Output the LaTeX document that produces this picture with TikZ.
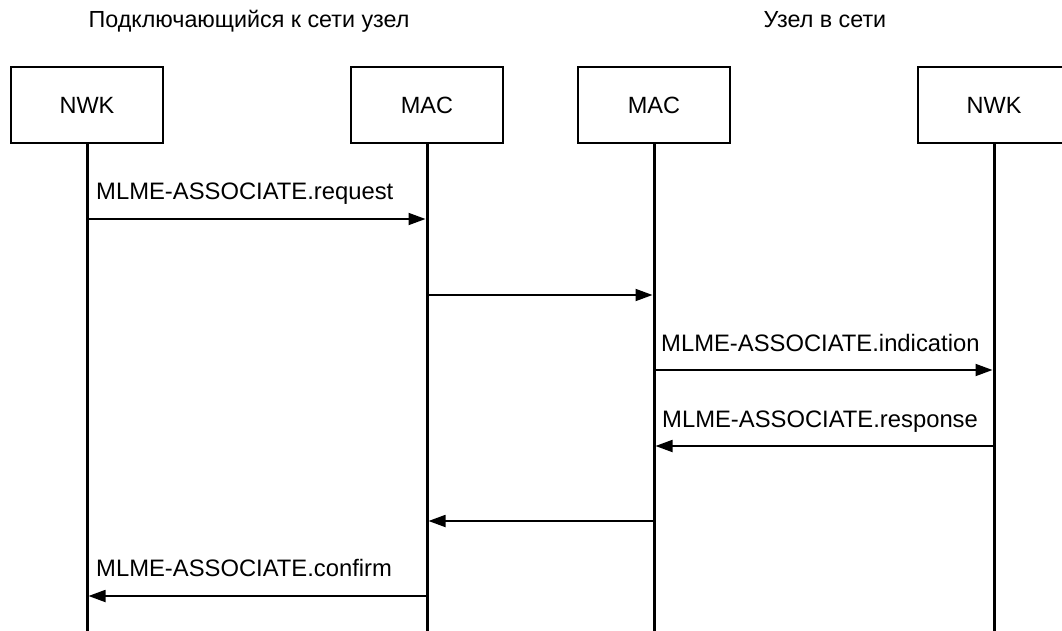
\documentclass[tikz,border=0pt]{standalone}
\usepackage{fontspec}
\setmainfont{Liberation Sans}
\usetikzlibrary{arrows.meta}
\begin{document}
\begin{tikzpicture}[x=1pt,y=1pt,
  every node/.style={font=\fontsize{23.5}{28}\selectfont, text=black},
  entity/.style={draw=black, line width=1.5pt, fill=white, minimum width=152pt, minimum height=76pt, inner sep=0pt},
  lifeline/.style={line width=3pt},
  msg/.style={line width=1.8pt, -{Triangle[length=17pt,width=12pt]}, shorten >=1.5pt, shorten <=1.5pt},
  msglabel/.style={anchor=base west, inner sep=0pt, font=\fontsize{23.8}{28}\selectfont},
  title/.style={anchor=base, inner sep=0pt, font=\fontsize{23.3}{28}\selectfont}]
  \clip (0,0) rectangle (1062,-631);
  \fill[white] (0,0) rectangle (1062,-631);

  % group captions
  \node[title] (t1) at (249,-28) {Подключающийся к сети узел};
  \node[title] (t2) at (825,-28) {Узел в сети};

  % entities
  \node[entity] (n1) at (87,-105) {NWK};
  \node[entity] (m1) at (427,-105) {MAC};
  \node[entity] (m2) at (654,-105) {MAC};
  \node[entity] (n2) at (994,-105) {NWK};

  % lifelines
  \foreach \e in {n1,m1,m2,n2} {
    \coordinate (\e end) at (\e.south |- 0,-640);
    \draw[lifeline] (\e.south) -- (\e end);
  }

  % messages
  \draw[msg] (n1 |- 0,-219) -- (m1 |- 0,-219);
  \node[msglabel] (l1) at (96,-200) {MLME-ASSOCIATE.request};

  \draw[msg] (m1 |- 0,-295) -- (m2 |- 0,-295);

  \draw[msg] (m2 |- 0,-370) -- (n2 |- 0,-370);
  \node[msglabel] (l3) at (661,-351) {MLME-ASSOCIATE.indication};

  \draw[msg] (n2 |- 0,-446) -- (m2 |- 0,-446);
  \node[msglabel] (l4) at (662,-427) {MLME-ASSOCIATE.response};

  \draw[msg] (m2 |- 0,-521) -- (m1 |- 0,-521);

  \draw[msg] (m1 |- 0,-596) -- (n1 |- 0,-596);
  \node[msglabel] (l6) at (96,-576) {MLME-ASSOCIATE.confirm};
\end{tikzpicture}
\end{document}
